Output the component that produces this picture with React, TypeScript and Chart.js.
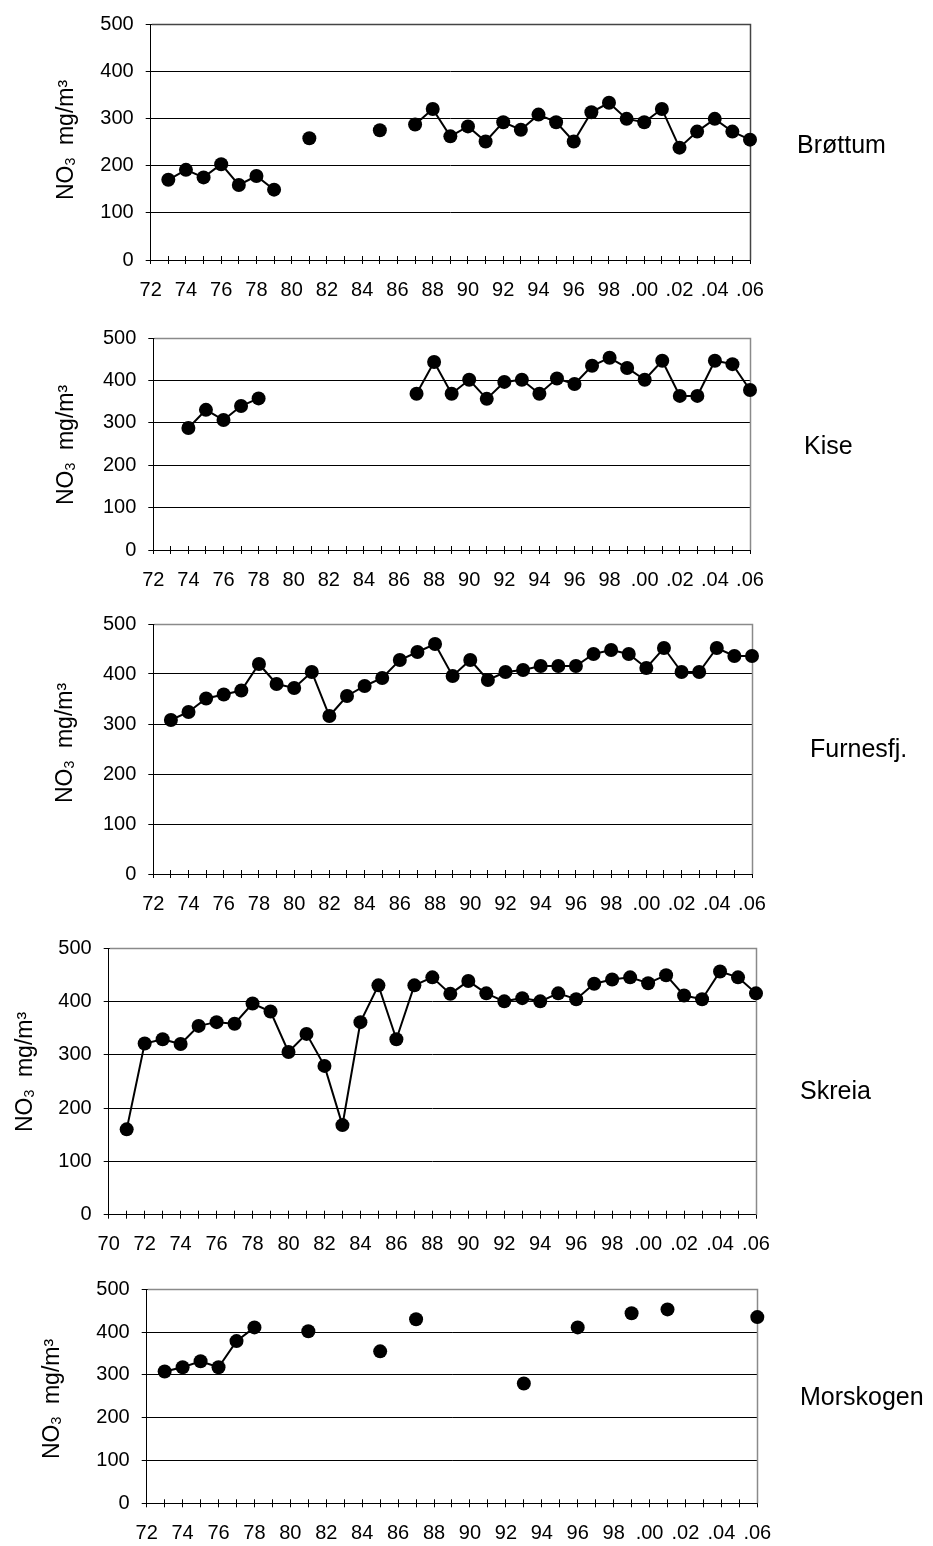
import React, { useEffect, useRef } from 'react';
import { Chart, registerables } from 'chart.js';

Chart.register(...registerables);

const FONT = "'Liberation Sans', Arial, Helvetica, sans-serif";

// Annual means of NO3 in precipitation (mg/m³), one entry per year 1970–2006.
const YEARS = [
  1970, 1971, 1972, 1973, 1974, 1975, 1976, 1977, 1978, 1979,
  1980, 1981, 1982, 1983, 1984, 1985, 1986, 1987, 1988, 1989,
  1990, 1991, 1992, 1993, 1994, 1995, 1996, 1997, 1998, 1999,
  2000, 2001, 2002, 2003, 2004, 2005, 2006,
];

const BROTTUM = [
  null, null, null, 170, 191, 175, 203, 159, 178, 149,
  null, 258, null, null, null, 275, null, 287, 320, 262,
  283, 251, 292, 276, 308, 292, 251, 313, 333, 299,
  292, 320, 238, 272, 299, 272, 255,
];

const KISE = [
  null, null, null, null, 288, 331, 307, 340, 358, null,
  null, null, null, null, null, null, null, 369, 444, 369,
  402, 357, 397, 402, 369, 405, 392, 435, 454, 430,
  402, 447, 364, 364, 447, 439, 378,
];

const FURNESFJ = [
  null, null, null, 308, 324, 351, 359, 367, 420, 380,
  372, 404, 316, 356, 376, 392, 428, 444, 460, 396,
  428, 388, 404, 408, 416, 416, 416, 440, 448, 440,
  412, 452, 404, 404, 452, 436, 436,
];

const SKREIA = [
  null, 160, 321, 329, 320, 354, 361, 358, 396, 381,
  305, 339, 279, 168, 361, 430, 329, 430, 445, 414,
  438, 415, 400, 406, 400, 415, 404, 433, 441, 445,
  434, 449, 411, 404, 456, 445, 415,
];

const MORSKOGEN = [
  null, null, null, 308, 318, 332, 318, 379, 411, null,
  null, 402, null, null, null, 355, null, 430, null, null,
  null, null, null, 280, null, null, 411, null, null, 444,
  null, 453, null, null, null, null, 435,
];

const STATION_NAMES = ['Brøttum', 'Kise', 'Furnesfj.', 'Skreia', 'Morskogen'];
const STATION_VALUES = [BROTTUM, KISE, FURNESFJ, SKREIA, MORSKOGEN];
const FIRST_YEARS = [1972, 1972, 1972, 1970, 1972];
const LAST_YEAR = 2006;
const Y_MIN = 0;
const Y_MAX = 500;
const Y_STEP = 100;

// Page geometry of each panel: canvas band, plot area, axis title and station name.
const PANEL_LAYOUT = [
  { bandTop: 0, bandHeight: 305, left: 150.7, right: 750, top: 21, bottom: 260, titleX: 73, titleCY: 140, nameX: 797, nameY: 153 },
  { bandTop: 305, bandHeight: 295, left: 153.3, right: 750, top: 338.3, bottom: 550, titleX: 73, titleCY: 445, nameX: 804, nameY: 454 },
  { bandTop: 600, bandHeight: 320, left: 153.3, right: 752, top: 624, bottom: 874, titleX: 72, titleCY: 743, nameX: 810, nameY: 757 },
  { bandTop: 920, bandHeight: 345, left: 108.7, right: 756, top: 948, bottom: 1214.7, titleX: 32, titleCY: 1072, nameX: 800, nameY: 1099 },
  { bandTop: 1265, bandHeight: 281, left: 146.7, right: 757.3, top: 1289.3, bottom: 1503.3, titleX: 59, titleCY: 1399, nameX: 800, nameY: 1405 },
];

const PAGE_WIDTH = 933;
const PAGE_HEIGHT = 1546;

function yearLabel(v: number | string): string {
  const n = Number(v);
  if (n % 2 !== 0) return '';
  const yy = String(n % 100).padStart(2, '0');
  return n >= 2000 ? '.' + yy : yy;
}

function align(px: number): number {
  return Math.round(px - 0.5) + 0.5;
}

type Layout = (typeof PANEL_LAYOUT)[number];

function Panel({ index }: { index: number }) {
  const ref = useRef<HTMLCanvasElement>(null);
  const lay: Layout = PANEL_LAYOUT[index];

  useEffect(() => {
    const canvas = ref.current;
    if (!canvas) return;
    const values = STATION_VALUES[index];
    const name = STATION_NAMES[index];

    const decor = {
      id: 'decor',
      beforeDatasetsDraw(chart: any) {
        const { ctx } = chart;
        const { left, right, top, bottom } = chart.chartArea;
        const xs = chart.scales.x;
        ctx.save();
        // upper half of the crossing year ticks
        ctx.strokeStyle = '#000';
        ctx.lineWidth = 1;
        ctx.beginPath();
        xs.ticks.forEach((t: any) => {
          const px = align(xs.getPixelForValue(t.value));
          ctx.moveTo(px, bottom);
          ctx.lineTo(px, bottom - 4);
        });
        ctx.stroke();
        // grey plot frame on top and right
        ctx.strokeStyle = index === 0 ? '#444' : '#8a8a8a';
        ctx.lineWidth = 1.5;
        ctx.beginPath();
        ctx.moveTo(left + 1, align(top));
        ctx.lineTo(align(right), align(top));
        ctx.lineTo(align(right), bottom);
        ctx.stroke();
        ctx.restore();
      },
      afterDraw(chart: any) {
        const { ctx } = chart;
        ctx.save();
        ctx.fillStyle = '#000';
        ctx.textAlign = 'left';
        ctx.textBaseline = 'alphabetic';

        // y-axis title with subscript and superscript
        const size = 23;
        const big = `${size}px ${FONT}`;
        const small = `${Math.round(size * 0.62)}px ${FONT}`;
        const parts = [
          { t: 'NO', f: big, dy: 0 },
          { t: '3', f: small, dy: 2 },
          { t: '  mg/m³', f: big, dy: 0 },
        ];
        const widths = parts.map((p) => {
          ctx.font = p.f;
          return ctx.measureText(p.t).width;
        });
        const total = widths.reduce((a, b) => a + b, 0);
        ctx.translate(lay.titleX, lay.titleCY - lay.bandTop);
        ctx.rotate(-Math.PI / 2);
        let cx = -total / 2;
        parts.forEach((p, i) => {
          ctx.font = p.f;
          ctx.fillText(p.t, cx, p.dy);
          cx += widths[i];
        });
        ctx.restore();

        // station name
        ctx.save();
        ctx.fillStyle = '#000';
        ctx.font = `25px ${FONT}`;
        ctx.textAlign = 'left';
        ctx.textBaseline = 'alphabetic';
        ctx.fillText(name, lay.nameX, lay.nameY - lay.bandTop);
        ctx.restore();
      },
    };

    const chart = new Chart(canvas, {
      type: 'line',
      data: {
        datasets: [
          {
            label: name,
            data: YEARS.map((yr, i) => ({ x: yr, y: values[i] })),
            borderColor: '#000',
            backgroundColor: '#000',
            borderWidth: 2,
            pointRadius: 7,
            pointHoverRadius: 7,
            pointBackgroundColor: '#000',
            pointBorderWidth: 0,
            tension: 0,
            spanGaps: false,
            clip: false,
          } as any,
        ],
      },
      options: {
        responsive: false,
        animation: false,
        events: [],
        layout: {
          padding: {
            left: 0,
            top: lay.top - lay.bandTop,
            right: PAGE_WIDTH - lay.right,
            bottom: 0,
          },
        },
        plugins: {
          legend: { display: false },
          tooltip: { enabled: false },
        },
        scales: {
          x: {
            type: 'linear',
            min: FIRST_YEARS[index],
            max: LAST_YEAR,
            afterFit: (s: any) => {
              s.height = lay.bandTop + lay.bandHeight - lay.bottom;
            },
            grid: {
              display: true,
              drawOnChartArea: false,
              drawTicks: true,
              tickLength: 4,
              color: '#000',
              lineWidth: 1,
            },
            border: { display: true, color: '#000', width: 1 },
            ticks: {
              stepSize: 1,
              autoSkip: false,
              maxRotation: 0,
              minRotation: 0,
              padding: 14,
              color: '#000',
              font: { family: FONT, size: 20 },
              callback: (v: any) => yearLabel(v),
            },
          },
          y: {
            min: Y_MIN,
            max: Y_MAX,
            afterFit: (s: any) => {
              s.width = lay.left;
            },
            grid: {
              color: '#000',
              lineWidth: 1,
              drawTicks: true,
              tickLength: 5,
            },
            border: { display: true, color: '#000', width: 1 },
            ticks: {
              stepSize: Y_STEP,
              padding: 12,
              color: '#000',
              font: { family: FONT, size: 20 },
            },
          },
        },
      } as any,
      plugins: [decor],
    });
    return () => chart.destroy();
  }, [index]);

  return (
    <canvas
      ref={ref}
      width={PAGE_WIDTH}
      height={lay.bandHeight}
      style={{
        position: 'absolute',
        left: 0,
        top: lay.bandTop,
        width: PAGE_WIDTH,
        height: lay.bandHeight,
        display: 'block',
      }}
    />
  );
}

export default function App() {
  return (
    <div
      style={{
        position: 'absolute',
        left: 0,
        top: 0,
        width: PAGE_WIDTH,
        height: PAGE_HEIGHT,
        background: '#fff',
        overflow: 'hidden',
      }}
    >
      {STATION_NAMES.map((_, i) => (
        <Panel key={i} index={i} />
      ))}
    </div>
  );
}
